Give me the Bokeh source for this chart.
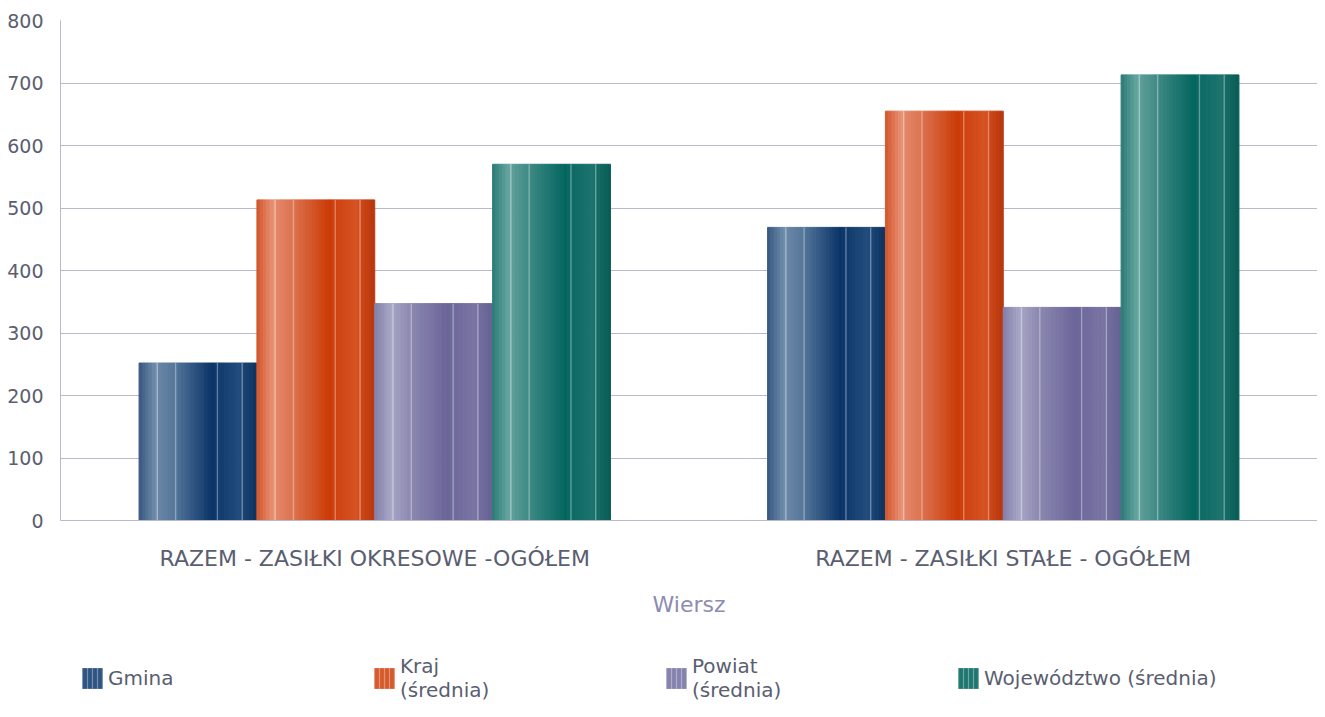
import numpy as np
from bokeh.plotting import figure
from bokeh.layouts import column
from bokeh.models import (ColumnDataSource, FactorRange, Range1d, Legend, LegendItem,
                          FixedTicker)
from bokeh.transform import dodge
from bokeh.embed import file_html
from bokeh.resources import INLINE

# ---------------- data ----------------
categories = ["RAZEM - ZASIŁKI OKRESOWE -OGÓŁEM", "RAZEM - ZASIŁKI STAŁE - OGÓŁEM"]
series_names = ["Gmina", "Kraj (średnia)", "Powiat (średnia)", "Województwo (średnia)"]
legend_labels = ["Gmina", "Kraj\n(średnia)", "Powiat\n(średnia)", "Województwo (średnia)"]
gmina = [252, 469]
kraj = [513, 655]
powiat = [347, 341]
wojewodztwo = [570, 713]
y_ticks = [0, 100, 200, 300, 400, 500, 600, 700, 800]
axis_title = "Wiersz"

values = [gmina, kraj, powiat, wojewodztwo]

# ---------------- style ----------------
FONT = "DejaVu Sans"
TEXT = "#5a5e70"
GRID = "#b9b8cc"
swatch_colors = ["#2f5482", "#d65a2c", "#8583ad", "#1f7670"]

profiles = [
    [(0.0, "#36567f"), (0.15, "#7290ae"), (0.16, "#6a86a5"), (0.31, "#55769b"),
     (0.62, "#0a3468"), (0.665, "#103a6c"), (0.87, "#234e7d"), (0.88, "#1c4676"), (1.0, "#0c325f")],
    [(0.0, "#d2542a"), (0.15, "#e9977c"), (0.16, "#e4886a"), (0.31, "#dc7350"),
     (0.62, "#cb3a05"), (0.665, "#cf4211"), (0.87, "#d65424"), (0.88, "#cd4818"), (1.0, "#b7370e")],
    [(0.0, "#817fa9"), (0.15, "#aaa9c8"), (0.16, "#a4a2c3"), (0.31, "#8b88b0"),
     (0.62, "#6b6599"), (0.665, "#6f6a9c"), (0.87, "#7a75a4"), (0.88, "#726e9e"), (1.0, "#666294")],
    [(0.0, "#2a7a75"), (0.15, "#6ba9a4"), (0.16, "#5f9f9a"), (0.31, "#3f8a85"),
     (0.62, "#04655f"), (0.665, "#0c6a64"), (0.87, "#1f746f"), (0.88, "#166d67"), (1.0, "#095c56")],
]
line_pos = [0.155, 0.31, 0.665, 0.875]


def hex2rgb(h):
    h = h.lstrip("#")
    return np.array([int(h[i:i + 2], 16) for i in (0, 2, 4)], dtype=float)


def color_at(profile, t):
    ps = [p for p, _ in profile]
    cs = np.array([hex2rgb(c) for _, c in profile])
    rgb = [np.interp(t, ps, cs[:, k]) for k in range(3)]
    return "#%02x%02x%02x" % tuple(int(round(v)) for v in rgb)


LEFT = 60
FRAME_W = 1257

p = figure(
    x_range=FactorRange(factors=categories, range_padding=0),
    y_range=Range1d(0, 800),
    width=LEFT + FRAME_W, height=620,
    output_backend="svg", toolbar_location=None,
    min_border_left=LEFT, min_border_right=0, min_border_top=20, min_border_bottom=100,
    background_fill_color="white", border_fill_color="white",
)
p.outline_line_color = None

n_series = len(series_names)
group_w = 0.75
bar_w = group_w / n_series
N = 36
slice_w = bar_w / N

for i, (name, vals) in enumerate(zip(series_names, values)):
    src = ColumnDataSource(dict(cat=categories, top=vals))
    center = -group_w / 2 + (i + 0.5) * bar_w
    for j in range(N):
        t = (j + 0.5) / N
        off = center - bar_w / 2 + t * bar_w
        c = color_at(profiles[i], t)
        p.vbar(x=dodge("cat", off, range=p.x_range), top="top", bottom=0,
               width=slice_w, source=src, fill_color=c, line_color=c, line_width=1)
    for lp_ in line_pos:
        off = center - bar_w / 2 + lp_ * bar_w
        p.vbar(x=dodge("cat", off, range=p.x_range), top="top", bottom=0,
               width=0.0022, source=src, fill_color="white", fill_alpha=0.35, line_color=None)

# axes
p.yaxis.ticker = FixedTicker(ticks=y_ticks)
p.yaxis.major_tick_line_color = None
p.yaxis.minor_tick_line_color = None
p.yaxis.axis_line_color = GRID
p.yaxis.major_label_standoff = 11
p.yaxis.major_label_text_font = FONT
p.yaxis.major_label_text_font_size = "19px"
p.yaxis.major_label_text_color = TEXT

p.xaxis.major_tick_line_color = None
p.xaxis.minor_tick_line_color = None
p.xaxis.axis_line_color = GRID
p.xaxis.major_label_standoff = 19
p.xaxis.major_label_text_font = FONT
p.xaxis.major_label_text_font_size = "22px"
p.xaxis.major_label_text_color = TEXT
p.xaxis.axis_label = axis_title
p.xaxis.axis_label_standoff = 18
p.xaxis.axis_label_text_font = FONT
p.xaxis.axis_label_text_font_size = "22px"
p.xaxis.axis_label_text_font_style = "normal"
p.xaxis.axis_label_text_color = "#8c8cb2"

p.xgrid.grid_line_color = None
p.ygrid.grid_line_color = GRID
p.ygrid.grid_line_width = 1

# ---------------- legend (separate strip below the chart) ----------------
lg = figure(
    x_range=Range1d(0, 1), y_range=Range1d(0, 1),
    width=LEFT + FRAME_W, height=88,
    output_backend="svg", toolbar_location=None,
    min_border_left=LEFT, min_border_right=0, min_border_top=0, min_border_bottom=0,
    background_fill_color="white", border_fill_color="white",
)
lg.outline_line_color = None
lg.axis.visible = False
lg.grid.visible = False

legend_items = []
for i, (name, vals) in enumerate(zip(series_names, values)):
    sw_src = ColumnDataSource(dict(x=list(range(len(categories))), top=vals))
    r = lg.vbar(x="x", top="top", width=0.1, source=sw_src,
                fill_color=swatch_colors[i], line_color=None,
                hatch_pattern="|", hatch_color="white", hatch_alpha=0.35,
                hatch_scale=5, hatch_weight=1.2)
    r.visible = False
    legend_items.append(LegendItem(label=legend_labels[i], renderers=[r]))

legend = Legend(items=legend_items, orientation="horizontal", location=(19, 6),
                glyph_width=26, glyph_height=26, label_standoff=3, label_width=263,
                label_height=21, spacing=0, padding=0, margin=0,
                border_line_color=None, background_fill_alpha=0,
                inactive_fill_alpha=0, click_policy="none",
                label_text_font=FONT, label_text_font_size="20px",
                label_text_color=TEXT)
lg.add_layout(legend, "center")

open("out.html", "w").write(file_html(column(p, lg), INLINE))
